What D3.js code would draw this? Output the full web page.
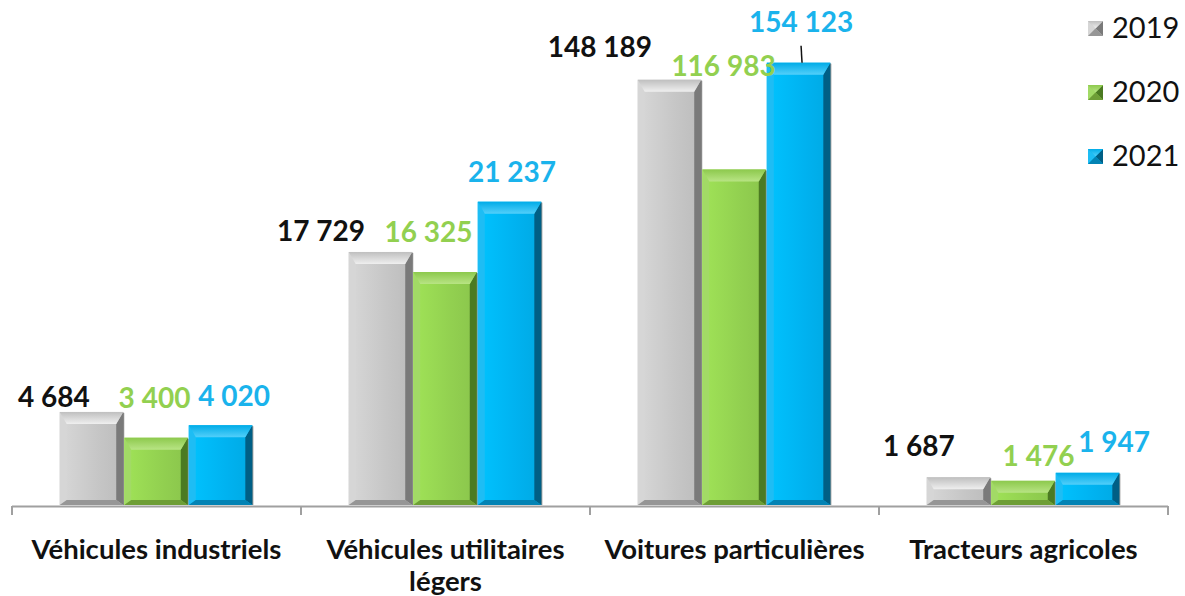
<!DOCTYPE html>
<html>
<head>
<meta charset="utf-8">
<script src="https://cdn.jsdelivr.net/npm/d3@7"></script>
<style>
  html, body { margin: 0; padding: 0; background: #fff; }
  svg { display: block; }
</style>
</head>
<body>
<svg id="chart" width="1185" height="596"></svg>
<script>
// ---- data ----
const categories = ["Véhicules industriels", "Véhicules utilitaires légers", "Voitures particulières", "Tracteurs agricoles"];
const categoryLines = [["Véhicules industriels"], ["Véhicules utilitaires", "légers"], ["Voitures particulières"], ["Tracteurs agricoles"]];
const seriesNames = ["2019", "2020", "2021"];
const values2019 = [4684, 17729, 148189, 1687];
const values2020 = [3400, 16325, 116983, 1476];
const values2021 = [4020, 21237, 154123, 1947];
// each category group in the source is drawn on its own value axis
const categoryAxisMax = [23400, 32800, 163400, 27600];

// ---- layout / style ----
const W = 1185, H = 596;
const baseY = 506, topY = 36;
const axisLeft = 12, axisRight = 1168;
const seriesColors = [
  { face: "#c6c6c6", light: "#efefef", side: "#d6d6d6", dark: "#7a7a7a", bottom: "#969696", label: "#111111" },
  { face: "#92d050", light: "#b8e484", side: "#a2da66", dark: "#4b7a22", bottom: "#6e9e36", label: "#92d050" },
  { face: "#00b2f0", light: "#52cffa", side: "#1ebdf4", dark: "#005f85", bottom: "#0383b4", label: "#1ab3ec" }
];
// label nudges [dx from bar centre, dy from bar top to text baseline]
const labelNudge = [
  [[-38, -5], [-2, -30], [13, -19]],
  [[-60, -11], [-17, -30], [2, -20]],
  [[-70, -23], [-11, -94], [2, -31]],
  [[-40, -21], [15, -15], [26, -21]]
];

const svg = d3.select("#chart");
const fmt = v => d3.format(",")(v).replace(/,/g, " ");

const x0 = d3.scaleBand().domain(categories).range([axisLeft, axisRight])
  .paddingInner(0.33).paddingOuter(0.165);
const x1 = d3.scaleBand().domain(seriesNames).range([0, x0.bandwidth()]).padding(0);
const yScales = categoryAxisMax.map(m => d3.scaleLinear().domain([0, m]).range([baseY, topY]));

const seriesVals = [values2019, values2020, values2021];

// gradients
const defs = svg.append("defs");
seriesColors.forEach((c, i) => {
  const g = defs.append("linearGradient").attr("id", "face" + i).attr("x1", 0).attr("x2", 1).attr("y1", 0).attr("y2", 0);
  g.append("stop").attr("offset", "0%").attr("stop-color", d3.color(c.face).brighter(0.25));
  g.append("stop").attr("offset", "60%").attr("stop-color", c.face);
  g.append("stop").attr("offset", "100%").attr("stop-color", d3.color(c.face).darker(0.15));
  const t = defs.append("linearGradient").attr("id", "top" + i).attr("x1", 0).attr("x2", 0).attr("y1", 0).attr("y2", 1);
  t.append("stop").attr("offset", "0%").attr("stop-color", d3.color(c.face).darker(0.1));
  t.append("stop").attr("offset", "100%").attr("stop-color", c.light);
});

function bevel(g, x, y, w, h, i, t, s, b, faceFill) {
  const c = seriesColors[i];
  const P = pts => pts.map(p => p.join(",")).join(" ");
  g.append("rect").attr("x", x).attr("y", y).attr("width", w).attr("height", h).attr("fill", faceFill || c.face);
  g.append("polygon").attr("points", P([[x, y], [x + s, y + t], [x + s, y + h - b], [x, y + h]])).attr("fill", c.side);
  g.append("polygon").attr("points", P([[x + w, y], [x + w, y + h], [x + w - s, y + h - b], [x + w - s, y + t]])).attr("fill", c.dark);
  g.append("polygon").attr("points", P([[x, y + h], [x + w, y + h], [x + w - s, y + h - b], [x + s, y + h - b]])).attr("fill", c.bottom);
  g.append("polygon").attr("points", P([[x, y], [x + w, y], [x + w - s, y + t], [x + s, y + t]])).attr("fill", `url(#top${i})`);
}

// bars
categories.forEach((cat, ci) => {
  const y = yScales[ci];
  seriesNames.forEach((sn, si) => {
    const v = seriesVals[si][ci];
    const bx = x0(cat) + x1(sn);
    const bw = x1.bandwidth() - 1;
    const by = y(v);
    const bh = baseY - 1 - by;
    const g = svg.append("g").attr("class", "bar");
    bevel(g, bx, by, bw, bh, si, 12, 7, 5, `url(#face${si})`);
    g.append("line").attr("x1", bx + bw + 0.5).attr("x2", bx + bw + 0.5).attr("y1", by + 1).attr("y2", by + bh)
      .attr("stroke", "#222").attr("stroke-opacity", 0.55).attr("stroke-width", 1);
  });
});

// axis
const axisG = svg.append("g");
axisG.append("line").attr("x1", axisLeft).attr("x2", axisRight).attr("y1", baseY + 0.5).attr("y2", baseY + 0.5)
  .attr("stroke", "#a0a0a0").attr("stroke-width", 2);
const boundaries = categories.map(c => x0(c) - x0.step() * x0.paddingInner() / 2);
boundaries[0] = axisLeft;
boundaries.push(axisRight);
boundaries.forEach(bx => {
  axisG.append("line").attr("x1", bx).attr("x2", bx).attr("y1", baseY).attr("y2", baseY + 9)
    .attr("stroke", "#a0a0a0").attr("stroke-width", 2);
});

// category labels
categories.forEach((cat, ci) => {
  const cx = x0(cat) + x0.bandwidth() / 2;
  const t = svg.append("text").attr("x", cx).attr("y", 559).attr("text-anchor", "middle")
    .attr("font-family", "Lato, 'Open Sans', sans-serif").attr("font-weight", 700).attr("font-size", 27.5).attr("fill", "#111");
  categoryLines[ci].forEach((ln, li) => {
    t.append("tspan").attr("x", cx).attr("dy", li === 0 ? 0 : 32).text(ln);
  });
});

// value labels
categories.forEach((cat, ci) => {
  const y = yScales[ci];
  seriesNames.forEach((sn, si) => {
    const v = seriesVals[si][ci];
    const cx = x0(cat) + x1(sn) + x1.bandwidth() / 2;
    const [dx, dy] = labelNudge[ci][si];
    svg.append("text").attr("x", cx + dx).attr("y", y(v) + dy).attr("text-anchor", "middle")
      .attr("font-family", "Lato, 'Open Sans', sans-serif").attr("font-weight", 700).attr("font-size", 28)
      .attr("fill", seriesColors[si].label).text(fmt(v));
  });
});

// leader line for the 2021 value of "Voitures particulières"
{
  const ci = 2, si = 2;
  const cx = x0(categories[ci]) + x1(seriesNames[si]) + x1.bandwidth() / 2;
  const by = yScales[ci](seriesVals[si][ci]);
  svg.append("line").attr("x1", cx + 2).attr("y1", by + labelNudge[ci][si][1] + 14).attr("x2", cx + 3).attr("y2", by)
    .attr("stroke", "#111").attr("stroke-width", 1.5);
}

// legend
const legendY = [28, 92, 156];
seriesNames.forEach((sn, si) => {
  const g = svg.append("g");
  bevel(g, 1088, legendY[si] - 7, 15, 15, si, 7.5, 7.5, 7.5);
  svg.append("text").attr("x", 1112).attr("y", legendY[si] + 10)
    .attr("font-family", "Lato, 'Open Sans', sans-serif").attr("font-size", 29).attr("fill", "#111").text(sn);
});
</script>
</body>
</html>
